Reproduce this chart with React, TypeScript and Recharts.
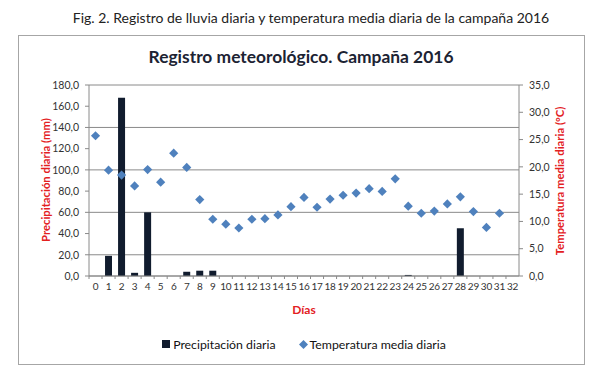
import React from "react";
import {
  ComposedChart,
  Bar,
  Scatter,
  XAxis,
  YAxis,
  CartesianGrid,
  Legend,
} from "recharts";

// días de la campaña (0..32)
const days = [
  0, 1, 2, 3, 4, 5, 6, 7, 8, 9, 10, 11, 12, 13, 14, 15, 16, 17, 18, 19, 20,
  21, 22, 23, 24, 25, 26, 27, 28, 29, 30, 31, 32,
];
// precipitación diaria (mm)
const precipitacion = [
  0, 19, 168, 3, 60, 0, 0, 4, 5, 5, 0, 0, 0, 0, 0, 0, 0, 0, 0, 0, 0, 0, 0, 0,
  1, 0, 0, 0, 45, 0, 0, 0, 0,
];
// temperatura media diaria (°C)
const temperatura = [
  25.7, 19.4, 18.5, 16.5, 19.5, 17.2, 22.5, 19.9, 14.0, 10.4, 9.5, 8.8, 10.4,
  10.5, 11.2, 12.7, 14.4, 12.6, 14.1, 14.8, 15.2, 16.0, 15.5, 17.8, 12.8, 11.5,
  11.9, 13.2, 14.5, 11.8, 8.9, 11.5, null,
];
const ticksPrecip = [0, 20, 40, 60, 80, 100, 120, 140, 160, 180];
const ticksTemp = [0, 5, 10, 15, 20, 25, 30, 35];

const data = days.map((d, i) => ({
  dia: d,
  precip: precipitacion[i],
  temp: temperatura[i],
}));

const FONT = "Lato, 'Open Sans', sans-serif";
const BAR = "#111c2e";
const BLUE = "#4f81bd";
const RED = "#e3211f";
const GRID = "#8a8a8a";
const BAND = 430 / days.length;

const fmt = (v: number) => v.toFixed(1).replace(".", ",");

const DayTick = (props: any) => {
  const { x, y, payload } = props;
  return (
    <g>
      <line x1={x - BAND / 2} x2={x - BAND / 2} y1={y - 7} y2={y - 4} stroke={GRID} />
      <text x={x} y={y} dy="0.71em" textAnchor="middle" fontSize={10} letterSpacing={-0.2} fill="#333" fontFamily={FONT}>
        {payload.value}
      </text>
    </g>
  );
};

const Diamond = (props: any) => {
  const { cx, cy } = props;
  if (cx == null || cy == null) return null;
  const r = 4.6;
  return (
    <path
      d={`M${cx},${cy - r}L${cx + r},${cy}L${cx},${cy + r}L${cx - r},${cy}Z`}
      fill={BLUE}
    />
  );
};

const LegendBox = () => (
  <div
    style={{
      height: 20,
      display: "flex",
      justifyContent: "center",
      alignItems: "center",
      fontFamily: FONT,
      fontSize: 12.3,
      color: "#111",
    }}
  >
    <span style={{ width: 8, height: 8, background: BAR, marginRight: 3 }} />
    <span style={{ marginRight: 23 }}>Precipitación diaria</span>
    <svg width={9} height={9} style={{ marginRight: 2 }}>
      <path d="M4.5,0L9,4.5L4.5,9L0,4.5Z" fill={BLUE} />
    </svg>
    <span>Temperatura media diaria</span>
  </div>
);

const abs = (s: React.CSSProperties): React.CSSProperties => ({
  position: "absolute",
  fontFamily: FONT,
  whiteSpace: "nowrap",
  ...s,
});

export default function App() {
  return (
    <div style={{ position: "absolute", left: 0, top: 0, width: 607, height: 385, background: "#fff" }}>
      <div style={abs({ left: 0, width: 622, top: 9, textAlign: "center", fontSize: 14, color: "#222" })}>
        Fig. 2. Registro de lluvia diaria y temperatura media diaria de la campaña 2016
      </div>
      <div
        style={{
          position: "absolute",
          left: 18,
          top: 35,
          width: 565,
          height: 328,
          border: "1px solid #a6a6a6",
        }}
      />
      <div style={abs({ left: 0, width: 602, top: 46, textAlign: "center", fontSize: 17.4, fontWeight: 700, color: "#1c2333" })}>
        Registro meteorológico. Campaña 2016
      </div>
      <div style={abs({ left: 45, top: 180, transform: "translate(-50%,-50%) rotate(-90deg)", fontSize: 11.3, fontWeight: 700, color: RED })}>
        Precipitación diaria (mm)
      </div>
      <div style={abs({ left: 559, top: 181, transform: "translate(-50%,-50%) rotate(-90deg)", fontSize: 11.3, fontWeight: 700, color: RED })}>
        Temperatura media diaria (°C)
      </div>
      <div style={abs({ left: 304, top: 309, transform: "translate(-50%,-50%)", fontSize: 12, fontWeight: 700, color: RED })}>
        Días
      </div>
      <div style={{ position: "absolute", left: 0, top: 0 }}>
        <ComposedChart
          width={607}
          height={385}
          data={data}
          margin={{ top: 85, right: 38, left: 39, bottom: 31 }}
        >
          <CartesianGrid yAxisId="left" vertical={false} stroke={GRID} />
          <XAxis
            dataKey="dia"
            type="category"
            interval={0}
            height={58}
            tick={<DayTick />}
            tickLine={false}
            tickSize={4}
            tickMargin={3}
            stroke={GRID}
          />
          <YAxis
            yAxisId="left"
            orientation="left"
            width={50}
            domain={[0, 180]}
            ticks={ticksPrecip}
            tickFormatter={fmt}
            tickSize={4}
            tickMargin={6}
            stroke={GRID}
            tick={{ fill: "#333", fontSize: 10.5, fontFamily: FONT }}
          />
          <YAxis
            yAxisId="right"
            orientation="right"
            width={50}
            domain={[0, 35]}
            ticks={ticksTemp}
            tickFormatter={fmt}
            tickSize={4}
            tickMargin={6}
            stroke={GRID}
            tick={{ fill: "#333", fontSize: 10.5, fontFamily: FONT }}
          />
          <Legend verticalAlign="bottom" align="center" content={<LegendBox />} />
          <Bar
            yAxisId="left"
            dataKey="precip"
            name="Precipitación diaria"
            fill={BAR}
            barSize={7}
            isAnimationActive={false}
          />
          <Scatter
            yAxisId="right"
            dataKey="temp"
            name="Temperatura media diaria"
            fill={BLUE}
            shape={<Diamond />}
            isAnimationActive={false}
          />
        </ComposedChart>
      </div>
    </div>
  );
}
